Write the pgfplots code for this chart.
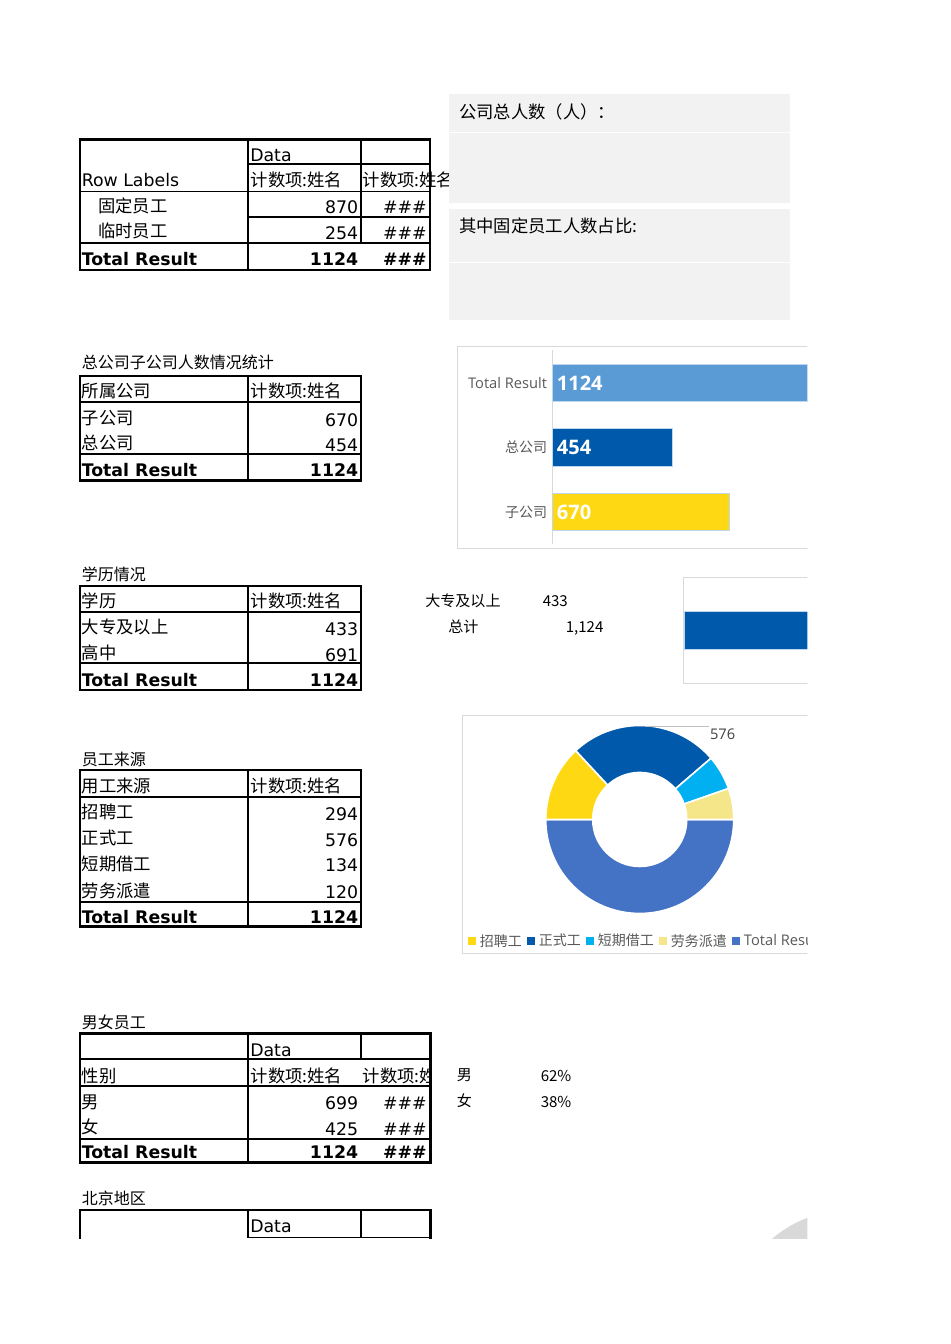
\documentclass[border=0pt]{standalone}
\usepackage{pgfplots}
\pgfplotsset{compat=1.18}
\usepackage{fontspec}
\setmainfont{DejaVu Sans}
\newfontfamily\cjk{Noto Sans CJK SC}
\newfontfamily\os{Open Sans}
\definecolor{cY}{HTML}{FFD814}
\definecolor{cB}{HTML}{0059AB}
\definecolor{cLB}{HTML}{5B9BD5}
\definecolor{cC}{HTML}{00B0F0}
\definecolor{cLY}{HTML}{F5E68A}
\definecolor{cT}{HTML}{4472C4}
\definecolor{boxg}{HTML}{F2F2F2}
\definecolor{frameg}{HTML}{D9D9D9}
\definecolor{txtg}{HTML}{595959}
\definecolor{edge}{HTML}{BDD7EE}
\newcommand\TL[3]{\node[anchor=base west,inner sep=0pt] at (#1,#2) {#3};}
\newcommand\TR[3]{\node[anchor=base east,inner sep=0pt] at (#1,#2) {#3};}
\newcommand\dw[3]{\fill[#1,draw=white,line width=1.2pt] (axis cs:{cos(#2)},{sin(#2)}) arc[start angle=#2,end angle=#3,radius=70.5pt] -- (axis cs:{0.5*cos(#3)},{0.5*sin(#3)}) arc[start angle=#3,end angle=#2,radius=35.25pt] -- cycle;}
\begin{document}
\begin{tikzpicture}
\path[use as bounding box] (0,0) rectangle (712.5pt,-1008pt);
\fill[white] (0,0) rectangle (712.5pt,-1008pt);
\clip (0,0) rectangle (605.6pt,-928.9pt);
\begin{scope}[x=0.75pt,y=-0.75pt,font=\fontsize{13}{15}\selectfont]
\begin{scope}[every node/.append style={yshift=-1.3pt}]
% ---------- table 1
\draw[line width=1.3pt] (248,164)--(430,164) (80,191.5)--(430,191.5) (248,217.3)--(430,217.3) (80,243.3)--(430,243.3) (248,139.5)--(248,270) (361,139.5)--(361,243.3);
\draw[line width=2.2pt] (80,139.5) rectangle (430,270);
\TL{250}{159.3}{Data}
\TL{81.5}{185}{Row Labels}
\TL{250.5}{185}{\cjk 计数项:姓名}
\TL{362.5}{185}{\cjk 计数项:姓名}
\TL{98}{210.5}{\cjk 固定员工}\TR{358.5}{211.7}{870}\TR{427}{211.7}{\#\#\#}
\TL{98}{236}{\cjk 临时员工}\TR{358.5}{237.3}{254}\TR{427}{237.3}{\#\#\#}
\TL{81.5}{263.3}{\bfseries Total Result}\TR{358.5}{263.3}{\bfseries 1124}\TR{427}{263.3}{\bfseries\#\#\#}
\end{scope}
% ---------- grey boxes
\fill[boxg] (449,94) rectangle (790,131.7);
\fill[boxg] (449,133) rectangle (790,203);
\fill[boxg] (449,209) rectangle (790,262);
\fill[boxg] (449,263.5) rectangle (790,320);
\TL{459}{119}{\cjk\fontsize{13}{15}\selectfont 公司总人数（人）：}
\TL{459}{233}{\cjk\fontsize{13}{15}\selectfont 其中固定员工人数占比:}
\begin{scope}[every node/.append style={yshift=-1.3pt}]
% ---------- table 2
\TL{81.5}{367}{\cjk\fontsize{12}{14}\selectfont 总公司子公司人数情况统计}
\draw[line width=1.3pt] (80,401.7)--(361,401.7) (80,454)--(361,454) (248,376)--(248,480.7);
\draw[line width=2.2pt] (80,376) rectangle (361,480.7);
\TL{81.5}{395.5}{\cjk 所属公司}\TL{250.5}{395.5}{\cjk 计数项:姓名}
\TL{81.5}{422.5}{\cjk 子公司}\TR{358.5}{424.6}{670}
\TL{81.5}{448}{\cjk 总公司}\TR{358.5}{450}{454}
\TL{81.5}{474.3}{\bfseries Total Result}\TR{358.5}{474.3}{\bfseries 1124}
% ---------- table 3
\TL{81.5}{578.5}{\cjk\fontsize{12}{14}\selectfont 学历情况}
\draw[line width=1.3pt] (80,611.7)--(361,611.7) (80,663.3)--(361,663.3) (248,586)--(248,690);
\draw[line width=2.2pt] (80,586) rectangle (361,690);
\TL{81.5}{606}{\cjk 学历}\TL{250.5}{606}{\cjk 计数项:姓名}
\TL{81.5}{632}{\cjk 大专及以上}\TR{358.5}{633.3}{433}
\TL{81.5}{658}{\cjk 高中}\TR{358.5}{659.3}{691}
\TL{81.5}{685}{\bfseries Total Result}\TR{358.5}{685}{\bfseries 1124}
% ---------- table 4
\TL{81.5}{763.5}{\cjk\fontsize{12}{14}\selectfont 员工来源}
\draw[line width=1.3pt] (80,796.7)--(361,796.7) (80,902.3)--(361,902.3) (248,770)--(248,926.7);
\draw[line width=2.2pt] (80,770) rectangle (361,926.7);
\TL{81.5}{791}{\cjk 用工来源}\TL{250.5}{791}{\cjk 计数项:姓名}
\TL{81.5}{817}{\cjk 招聘工}\TR{358.5}{818.3}{294}
\TL{81.5}{843}{\cjk 正式工}\TR{358.5}{844.3}{576}
\TL{81.5}{869}{\cjk 短期借工}\TR{358.5}{870}{134}
\TL{81.5}{895.5}{\cjk 劳务派遣}\TR{358.5}{896.6}{120}
\TL{81.5}{921.7}{\bfseries Total Result}\TR{358.5}{921.7}{\bfseries 1124}
% ---------- table 5
\TL{81.5}{1027}{\cjk\fontsize{12}{14}\selectfont 男女员工}
\draw[line width=1.3pt] (80,1059.3)--(430.5,1059.3) (80,1086)--(430.5,1086) (80,1139.3)--(430.5,1139.3) (248,1033.5)--(248,1162.7) (361,1033.5)--(361,1059.3);
\draw[line width=2.2pt] (80,1033.5) rectangle (430.5,1162.7);
\TL{250}{1054.3}{Data}
\TL{81.5}{1080.3}{\cjk 性别}\TL{250.5}{1080.3}{\cjk 计数项:姓名}
\begin{scope}\clip (361,1060) rectangle (428.5,1086);\TL{362.5}{1080.3}{\cjk 计数项:姓名}\end{scope}
\TL{81.5}{1106.8}{\cjk 男}\TR{358.5}{1108}{699}\TR{427}{1108}{\#\#\#}
\TL{81.5}{1132}{\cjk 女}\TR{358.5}{1133.3}{425}\TR{427}{1133.3}{\#\#\#}
\TL{81.5}{1156.7}{\bfseries Total Result}\TR{358.5}{1156.7}{\bfseries 1124}\TR{427}{1156.7}{\bfseries\#\#\#}
% ---------- table 6
\TL{81.5}{1203}{\cjk\fontsize{12}{14}\selectfont 北京地区}
\draw[line width=1.3pt] (248,1237.6)--(430.5,1237.6) (248,1210)--(248,1237.6) (361,1210)--(361,1237.6);
\draw[line width=2.2pt] (80,1245)--(80,1210)--(430.5,1210)--(430.5,1238.5);
\TL{250}{1230.7}{Data}
\end{scope}
% ---------- side texts
\begin{scope}[font=\cjk\fontsize{11.3}{13}\selectfont]
\TL{425}{606}{大专及以上}\TL{542.5}{606}{433}
\TL{448}{632.5}{总计}\TL{565.5}{632.5}{1,124}
\TL{456.5}{1080.8}{男}\TL{540.5}{1081.5}{62\%}
\TL{456.5}{1106.8}{女}\TL{540.5}{1107.5}{38\%}
\end{scope}
% ---------- chart frames
\draw[frameg,line width=0.75pt] (815,346.5)--(457.5,346.5)--(457.5,548.5)--(815,548.5);
\draw[frameg,line width=0.75pt] (815,577.5)--(683.5,577.5)--(683.5,683.5)--(815,683.5);
\draw[frameg,line width=0.75pt] (815,715.5)--(462.5,715.5)--(462.5,953.3)--(815,953.3);
\end{scope}
% ---------- bar chart: 所属公司
\begin{axis}[at={(414pt,-408.2pt)}, anchor=south west, scale only axis,
  width=238.3pt, height=145.35pt, xmin=0, xmax=1200, ymin=-0.5, ymax=2.5,
  axis x line=none, axis y line=left, y axis line style={-, draw=frameg, line width=0.75pt},
  ytick={0,1,2}, yticklabels={{\cjk 子公司},{\cjk 总公司},{\os\fontsize{11}{13}\selectfont Total Result}},
  major tick length=0pt, ytick style={draw=none},
  yticklabel style={anchor=east, inner sep=0pt, xshift=-3.5pt, font=\fontsize{10.5}{12}\selectfont, text=txtg},
  clip=false]
\addplot[xbar, bar width=28.1pt, bar shift=0pt, fill=cY, draw=edge, line width=0.5pt] coordinates {(670,0)};
\addplot[xbar, bar width=28.1pt, bar shift=0pt, fill=cB, draw=edge, line width=0.5pt] coordinates {(454,1)};
\addplot[xbar, bar width=28.1pt, bar shift=0pt, fill=cLB, draw=edge, line width=0.5pt] coordinates {(1124,2)};
\addplot[draw=none, point meta=explicit symbolic, nodes near coords={\pgfplotspointmeta},
  every node near coord/.append style={anchor=west, inner sep=0pt, xshift=3.5pt, text=white, font=\os\bfseries\fontsize{15}{17}\selectfont}]
  coordinates {(0,0) [670] (0,1) [454] (0,2) [1124]};
\end{axis}
% ---------- bar chart: 大专及以上
\begin{axis}[at={(513pt,-510.2pt)}, anchor=south west, scale only axis,
  width=225pt, height=75pt, xmin=0, xmax=600, ymin=-0.5, ymax=0.5, hide axis, clip=false]
\addplot[xbar, bar width=28pt, bar shift=0pt, fill=cB, draw=edge, line width=0.6pt] coordinates {(433,0)};
\end{axis}
% ---------- donut: 员工来源
\def\vA{294}\def\vB{576}\def\vC{134}\def\vD{120}\def\vE{1124}
\pgfmathsetmacro\tot{\vA+\vB+\vC+\vD+\vE}
\pgfmathsetmacro\aA{180}
\pgfmathsetmacro\aB{\aA-360*(\vA/\tot)}
\pgfmathsetmacro\aC{\aB-360*(\vB/\tot)}
\pgfmathsetmacro\aD{\aC-360*(\vC/\tot)}
\pgfmathsetmacro\aE{\aD-360*(\vD/\tot)}
\pgfmathsetmacro\aF{\aE-360*(\vE/\tot)}
\begin{axis}[at={(409.3pt,-685.1pt)}, anchor=south west, scale only axis,
  width=141pt, height=141pt, xmin=-1, xmax=1, ymin=-1, ymax=1, hide axis, clip=false,
  legend columns=-1,
  legend image code/.code={\fill[#1,draw=none] (0pt,-3pt) rectangle (6pt,3pt);},
  legend style={at={(-0.415,-0.147)}, anchor=west, draw=none, fill=none, inner sep=0pt,
    font=\fontsize{10.5}{12}\selectfont, text=txtg,
    /tikz/every even column/.append style={column sep=3.75pt},
    /tikz/every odd column/.append style={column sep=3pt},
    nodes={inner sep=0pt}}]
\addlegendimage{fill=cY}\addlegendentry{\cjk 招聘工}
\addlegendimage{fill=cB}\addlegendentry{\cjk 正式工}
\addlegendimage{fill=cC}\addlegendentry{\cjk 短期借工}
\addlegendimage{fill=cLY}\addlegendentry{\cjk 劳务派遣}
\addlegendimage{fill=cT}\addlegendentry{\os\fontsize{11}{13}\selectfont Total Result}
\dw{cT}{\aE}{\aF}
\dw{cY}{\aA}{\aB}
\dw{cB}{\aB}{\aC}
\dw{cC}{\aC}{\aD}
\dw{cLY}{\aD}{\aE}
\draw[gray!50, line width=0.5pt] (axis cs:0.056,0.995) -- (axis cs:0.737,0.995);
\node[anchor=base west, inner sep=0pt, font=\os\fontsize{11}{13}\selectfont, text=black!75] at (axis cs:0.745,0.853) {576};
\fill[frameg] (axis cs:2.237,-5.431) circle[radius=90pt];
\end{axis}
\end{tikzpicture}
\end{document}
